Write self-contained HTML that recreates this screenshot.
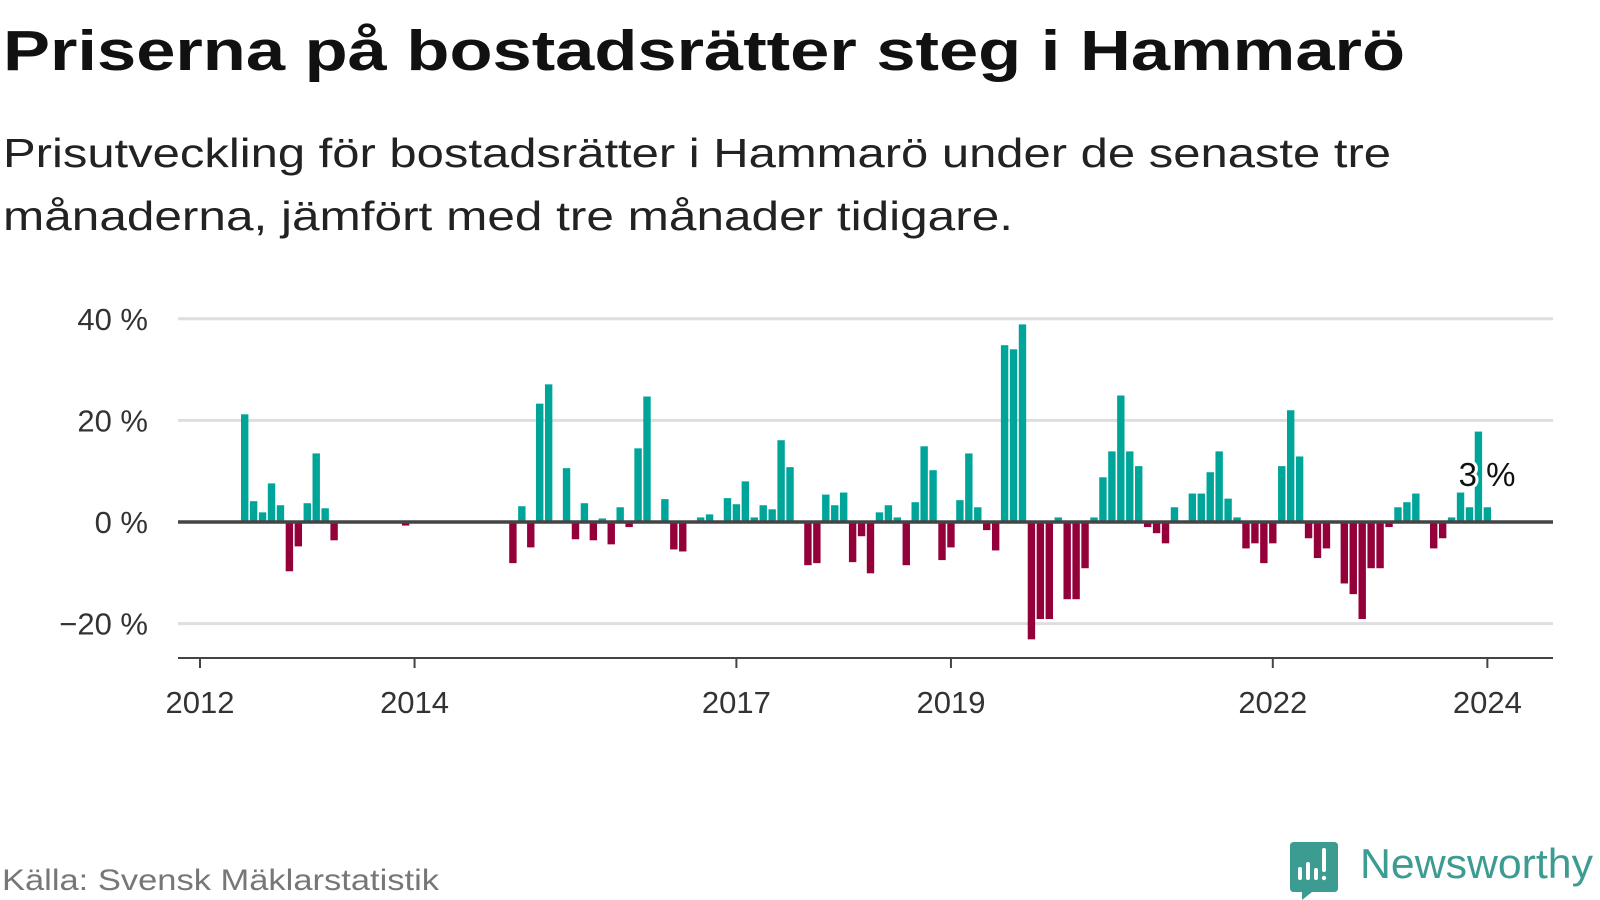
<!DOCTYPE html>
<html><head><meta charset="utf-8"><style>
html,body{margin:0;padding:0;background:#fff;width:1600px;height:900px;overflow:hidden}
svg{display:block;font-family:"Liberation Sans","DejaVu Sans",sans-serif}
</style></head><body>
<svg id="chart" width="1600" height="900" viewBox="0 0 1600 900">
<text x="3" y="70" font-size="57" font-weight="bold" fill="#111" textLength="1402" lengthAdjust="spacingAndGlyphs">Priserna på bostadsrätter steg i Hammarö</text>
<text x="3" y="167" font-size="41" fill="#222" textLength="1388" lengthAdjust="spacingAndGlyphs">Prisutveckling för bostadsrätter i Hammarö under de senaste tre</text>
<text x="3" y="230" font-size="41" fill="#222" textLength="1010" lengthAdjust="spacingAndGlyphs">månaderna, jämfört med tre månader tidigare.</text>
<g id="grid"></g>
<g id="yticks"></g>
<g id="bars"></g>
<line x1="178" y1="522" x2="1553" y2="522" stroke="#444" stroke-width="3.5"/>
<line x1="178" y1="658" x2="1553" y2="658" stroke="#444" stroke-width="2"/>
<g id="xticks"></g>
<text x="1487" y="486" font-size="33" fill="#111" text-anchor="middle" stroke="#fff" stroke-width="6" paint-order="stroke" stroke-linejoin="round">3 %</text>
<text x="2" y="890" font-size="30" fill="#777" textLength="437" lengthAdjust="spacingAndGlyphs">Källa: Svensk Mäklarstatistik</text>
<g>
<path d="M1294 842 H1334 Q1338 842 1338 846 V888 Q1338 892 1334 892 H1312 L1302 900 L1302 892 H1294 Q1290 892 1290 888 V846 Q1290 842 1294 842 Z" fill="#3d9c92"/>
<rect x="1298" y="867" width="4" height="13" rx="2" fill="#fff"/>
<rect x="1306" y="862" width="4" height="18" rx="2" fill="#fff"/>
<rect x="1314" y="868" width="4" height="12" rx="2" fill="#fff"/>
<rect x="1322" y="848" width="4" height="24" rx="2" fill="#fff"/>
<circle cx="1324" cy="878" r="2.2" fill="#fff"/>
<text x="1360" y="878" font-size="42" fill="#3d9c92" textLength="233" lengthAdjust="spacingAndGlyphs">Newsworthy</text>
</g>
</svg>
<script>
const yTickValues = [-20, 0, 20, 40];
const yTickLabels = ["\u221220 %", "0 %", "20 %", "40 %"];
const xTickYears = [2012, 2014, 2017, 2019, 2022, 2024];
const startYear = 2012;
const monthlyChange = [0,0,0,0,0,21.2,4.1,1.9,7.6,3.3,-9.7,-4.8,3.7,13.5,2.7,-3.6,
0,0,0,0,0,0,0,-0.7,0,0,0,0,0,0,0,0,0,0,0,
-8.1,3.1,-5.0,23.3,27.1,0,10.6,-3.4,3.7,-3.6,0.7,-4.4,2.9,-1.0,14.5,24.7,0,4.5,-5.4,-5.8,0,0.9,1.5,0,4.7,3.5,8.0,0.9,3.3,2.5,16.1,10.8,0,-8.5,-8.1,5.4,3.3,5.8,-7.9,-2.8,-10.1,1.9,3.3,0.9,-8.5,3.9,14.9,10.2,-7.5,-5.0,4.3,13.5,2.9,-1.6,-5.6,34.8,34.0,38.9,-23.1,-19.1,-19.1,0.9,-15.2,-15.2,-9.1,0.9,8.8,13.9,24.9,13.9,11.0,-1.0,-2.2,-4.2,2.9,0,5.6,5.6,9.8,13.9,4.6,0.9,-5.2,-4.2,-8.1,-4.2,11.0,22.0,12.9,-3.2,-7.1,-5.2,0,-12.1,-14.2,-19.1,-9.1,-9.1,-1.0,2.9,3.9,5.6,0,-5.2,-3.2,0.9,5.8,2.9,17.8,2.9];

const NS = "http://www.w3.org/2000/svg";
const y = v => 522 - v * 5.08;
const x = i => 200 + i * 8.94;

const grid = document.getElementById('grid');
const yt = document.getElementById('yticks');
yTickValues.forEach((v, k) => {
  if (v !== 0) {
    const l = document.createElementNS(NS, 'line');
    l.setAttribute('x1', 178); l.setAttribute('x2', 1553);
    l.setAttribute('y1', y(v)); l.setAttribute('y2', y(v));
    l.setAttribute('stroke', '#dedede'); l.setAttribute('stroke-width', 3);
    
    
    grid.appendChild(l);
  }
  const t = document.createElementNS(NS, 'text');
  t.setAttribute('x', 148); t.setAttribute('y', y(v) + 11);
  t.setAttribute('text-anchor', 'end'); t.setAttribute('font-size', 31); t.setAttribute('fill', '#333');
  t.textContent = yTickLabels[k];
  
  
  yt.appendChild(t);
});

const bars = document.getElementById('bars');
monthlyChange.forEach((v, i) => {
  if (v === 0) return;
  const r = document.createElementNS(NS, 'rect');
  r.setAttribute('x', x(i) - 3.7); r.setAttribute('width', 7.4);
  r.setAttribute('y', Math.min(y(v), y(0))); r.setAttribute('height', Math.abs(y(v) - y(0)));
  r.setAttribute('fill', v > 0 ? '#00a59a' : '#93003a');
  
  
  bars.appendChild(r);
});

const xt = document.getElementById('xticks');
xTickYears.forEach(yr => {
  const px = x((yr - startYear) * 12);
  const l = document.createElementNS(NS, 'line');
  l.setAttribute('x1', px); l.setAttribute('x2', px); l.setAttribute('y1', 658); l.setAttribute('y2', 668);
  l.setAttribute('stroke', '#444'); l.setAttribute('stroke-width', 2);
  
  
  xt.appendChild(l);
  const t = document.createElementNS(NS, 'text');
  t.setAttribute('x', px); t.setAttribute('y', 713);
  t.setAttribute('text-anchor', 'middle'); t.setAttribute('font-size', 31); t.setAttribute('fill', '#333');
  t.textContent = yr;
  
  
  xt.appendChild(t);
});
</script>
</body></html>
